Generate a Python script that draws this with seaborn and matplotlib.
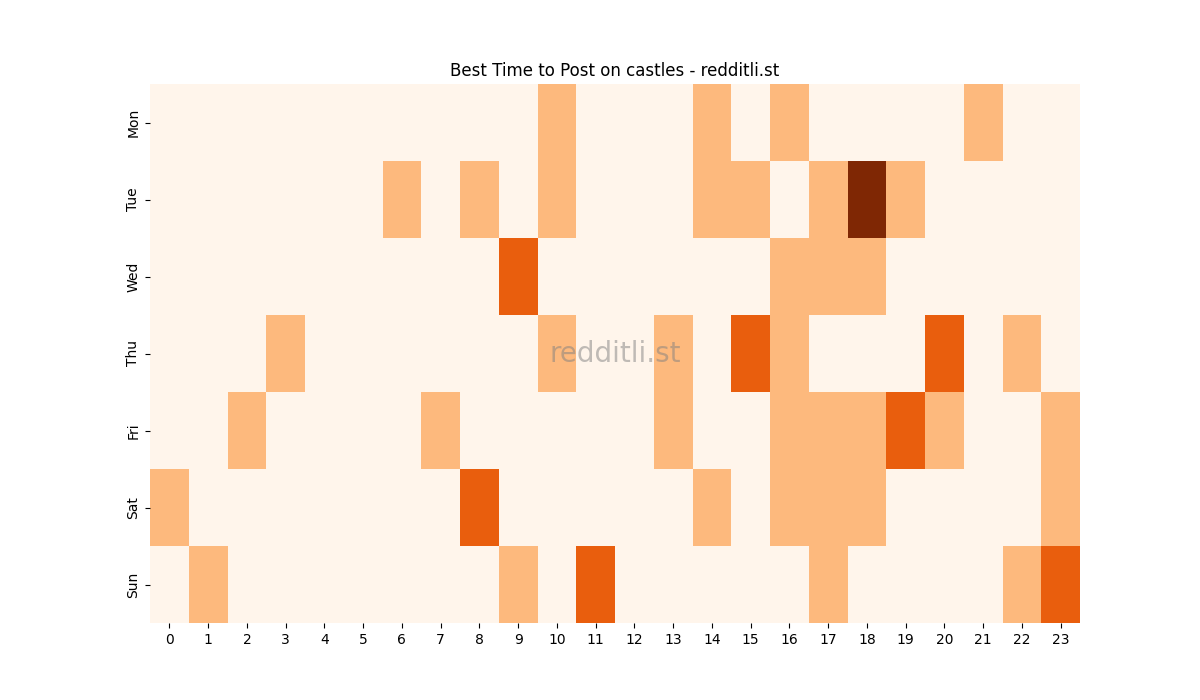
import matplotlib
matplotlib.use("Agg")
import matplotlib.pyplot as plt
import seaborn as sns
import numpy as np

days = ["Mon", "Tue", "Wed", "Thu", "Fri", "Sat", "Sun"]
hours = list(range(24))
mon = {10: 1, 14: 1, 16: 1, 21: 1}
tue = {6: 1, 8: 1, 10: 1, 14: 1, 15: 1, 17: 1, 18: 3, 19: 1}
wed = {9: 2, 16: 1, 17: 1, 18: 1}
thu = {3: 1, 10: 1, 13: 1, 15: 2, 16: 1, 20: 2, 22: 1}
fri = {2: 1, 7: 1, 13: 1, 16: 1, 17: 1, 18: 1, 19: 2, 20: 1, 23: 1}
sat = {0: 1, 8: 2, 14: 1, 16: 1, 17: 1, 18: 1, 23: 1}
sun = {1: 1, 9: 1, 11: 2, 17: 1, 22: 1, 23: 2}
rows = [mon, tue, wed, thu, fri, sat, sun]
data = np.array([[r.get(h, 0) for h in hours] for r in rows], dtype=float)

fig, ax = plt.subplots(figsize=(12, 7), dpi=100)
sns.heatmap(data, cmap="Oranges", cbar=False, ax=ax,
            xticklabels=hours, yticklabels=days)
ax.set_title("Best Time to Post on castles - redditli.st")
ax.text(0.5, 0.5, "redditli.st", transform=ax.transAxes, ha="center", va="center",
        fontsize=20, color="grey", alpha=0.5)
fig.savefig("out.png")
